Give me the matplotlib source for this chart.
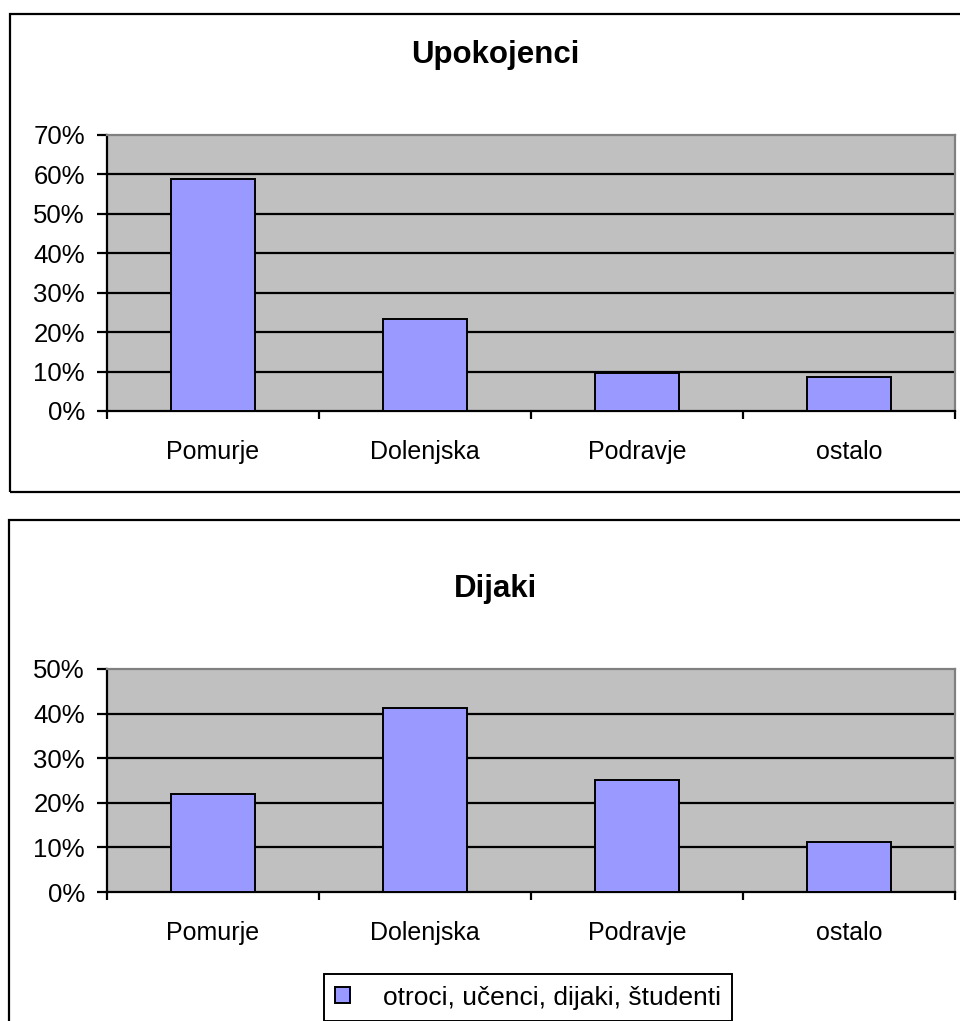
import numpy as np
from matplotlib import pyplot as plt
from matplotlib.patches import Rectangle
from matplotlib.ticker import PercentFormatter

plt.rcParams['font.family'] = ['Liberation Sans', 'DejaVu Sans']

regije = ["Pomurje", "Dolenjska", "Podravje", "ostalo"]
upokojenci = [58.9, 23.3, 9.7, 8.6]
dijaki = [22.0, 41.3, 25.1, 11.2]
legenda = "otroci, učenci, dijaki, študenti"

W, H = 960, 1021
fig = plt.figure(figsize=(W / 100, H / 100), dpi=100)


def px_axes(left, top, right, bottom):
	return fig.add_axes([left / W, 1 - bottom / H, (right - left) / W, (bottom - top) / H])


def box(left, top, right, bottom):
	fig.patches.append(Rectangle((left / W, 1 - bottom / H), (right - left) / W, (bottom - top) / H,
		transform=fig.transFigure, fill=False, edgecolor='black', linewidth=1.6, zorder=0))


def chart(ax, values, ymax, title, title_y):
	x = np.arange(len(values))
	bars = ax.bar(x, values, width=0.4, color='#9999FF', edgecolor='black', linewidth=1.4, zorder=3, label=legenda)
	ax.set_facecolor('#C0C0C0')
	ax.set_xlim(-0.5, len(values) - 0.5)
	ax.set_ylim(0, ymax)
	ax.set_yticks(np.arange(0, ymax + 1, 10))
	ax.yaxis.set_major_formatter(PercentFormatter(decimals=0))
	for v in np.arange(10, ymax, 10):
		ax.axhline(v, color='black', linewidth=1.6, zorder=2)
	ax.spines['top'].set_color('#808080')
	ax.spines['right'].set_color('#808080')
	for s in ax.spines.values():
		s.set_linewidth(1.6)
	ax.tick_params(axis='y', direction='out', length=7, width=1.6, labelsize=18.5, pad=9)
	ax.set_xticks(x)
	ax.set_xticklabels(regije)
	ax.set_xticks(np.arange(-0.5, len(values), 1), minor=True)
	ax.tick_params(axis='x', which='major', length=0, labelsize=18, pad=21)
	ax.tick_params(axis='x', which='minor', direction='out', length=6, width=1.6)
	fig.text(495 / W, 1 - title_y / H, title, ha='center', va='center', fontsize=22.5, fontweight='bold')
	return bars


box(10, 14, 1000, 492)
box(9, 520, 1000, 1060)

ax1 = px_axes(107, 135, 955, 411)
chart(ax1, upokojenci, 70, "Upokojenci", 55)

ax2 = px_axes(107, 669, 955, 892)
bars = chart(ax2, dijaki, 50, "Dijaki", 589)

leg = fig.legend(handles=[bars], loc='center', bbox_to_anchor=(528 / W, 1 - 997.5 / H),
	fontsize=19, fancybox=False, framealpha=1, edgecolor='black', handlelength=0.57, handleheight=0.57,
	handletextpad=1.25, borderpad=0.42, borderaxespad=0)
leg.get_frame().set_linewidth(1.4)

fig.savefig("out.png", dpi=100)
